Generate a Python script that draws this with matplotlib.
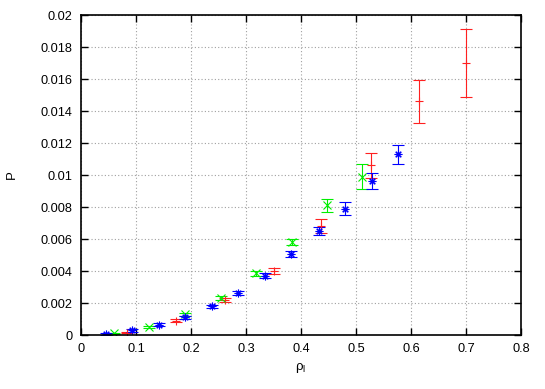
import matplotlib
matplotlib.use("Agg")
import matplotlib.pyplot as plt

plt.rcParams['font.family'] = ['Liberation Sans', 'DejaVu Sans']
plt.rcParams['mathtext.fontset'] = 'custom'
plt.rcParams['mathtext.rm'] = 'Liberation Sans'
plt.rcParams['mathtext.it'] = 'Liberation Sans'

# Series 1 (red +)
red_x = [0.084, 0.173, 0.262, 0.350, 0.437, 0.527, 0.615, 0.700]
red_y = [0.00015, 0.0009, 0.0022, 0.0040, 0.0068, 0.0106, 0.0146, 0.0170]
red_err = [0.00005, 0.0001, 0.00012, 0.0002, 0.00043, 0.00078, 0.00135, 0.0021]

# Series 2 (green x)
green_x = [0.060, 0.124, 0.189, 0.254, 0.318, 0.383, 0.447, 0.511]
green_y = [0.0001, 0.0005, 0.0013, 0.0023, 0.00385, 0.0058, 0.0081, 0.0099]
green_err = [0.00005, 0.00007, 0.0001, 0.00012, 0.00015, 0.0002, 0.0004, 0.0008]

# Series 3 (blue *)
blue_x = [0.045, 0.093, 0.141, 0.189, 0.2375, 0.286, 0.3345, 0.382, 0.4327, 0.480, 0.529, 0.577]
blue_y = [0.00008, 0.0003, 0.00065, 0.0011, 0.0018, 0.00265, 0.0037, 0.00505, 0.0065, 0.0079, 0.0096, 0.0113]
blue_err = [0.00005, 0.0001, 0.0001, 0.0001, 0.0001, 0.00012, 0.00015, 0.0002, 0.00025, 0.00043, 0.0005, 0.0006]

x_ticks = [0, 0.1, 0.2, 0.3, 0.4, 0.5, 0.6, 0.7, 0.8]
x_labels = ['0', '0.1', '0.2', '0.3', '0.4', '0.5', '0.6', '0.7', '0.8']
y_ticks = [0, 0.002, 0.004, 0.006, 0.008, 0.01, 0.012, 0.014, 0.016, 0.018, 0.02]
y_labels = ['0', '0.002', '0.004', '0.006', '0.008', '0.01', '0.012', '0.014', '0.016', '0.018', '0.02']

fig = plt.figure(figsize=(5.45, 3.89), dpi=100)
ax = fig.add_axes([81/545, 54/389, 440/545, 320/389])

common = dict(linestyle='none', capsize=4, elinewidth=0.8, capthick=0.8, markersize=5.5, markeredgewidth=0.8)
ax.errorbar(red_x, red_y, yerr=red_err, color='#ff2020', marker='+', **common)
ax.errorbar(green_x, green_y, yerr=green_err, color='#00ee00', marker='x', **common)
ax.errorbar(blue_x, blue_y, yerr=blue_err, color='#0000ff', marker=(8, 2, 0), **common)

ax.set_xlim(0, 0.8)
ax.set_ylim(0, 0.02)
ax.set_xticks(x_ticks)
ax.set_xticklabels(x_labels)
ax.set_yticks(y_ticks)
ax.set_yticklabels(y_labels)
ax.tick_params(direction='in', length=5, width=1.0, top=True, right=True, labelsize=9.2, pad=6, colors='black')
ax.grid(True, color='#a0a0a0', linestyle=(0, (1, 2)), linewidth=0.8)
for s in ax.spines.values():
    s.set_linewidth(1.2)

ax.set_xlabel(r'ρ$_\mathrm{l}$', fontsize=9.5, labelpad=4)
ax.set_ylabel('P', fontsize=9.5, va='center')
ax.yaxis.set_label_coords(-0.158, 0.5)

fig.savefig('out.png', dpi=100)
